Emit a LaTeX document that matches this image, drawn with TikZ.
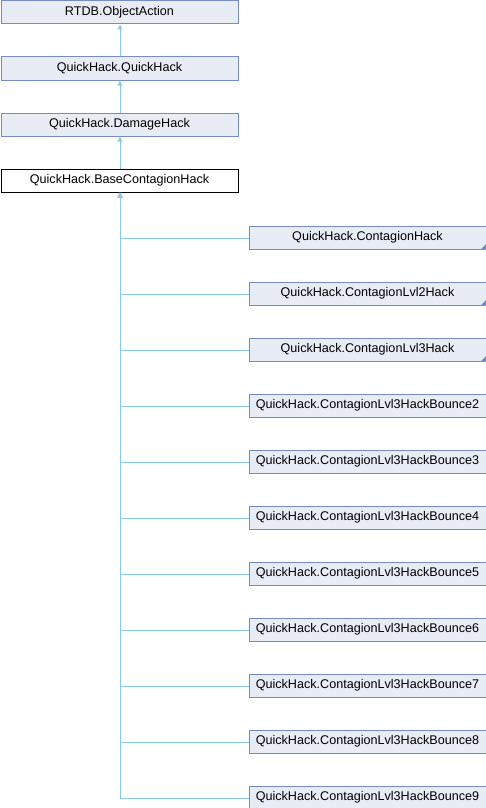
\documentclass[tikz,border=0pt]{standalone}
\usepackage{fontspec}
\setmainfont{Liberation Sans}
\usetikzlibrary{arrows.meta}
\definecolor{boxfill}{RGB}{232,236,245}
\definecolor{boxline}{RGB}{118,140,200}
\definecolor{edgeblue}{RGB}{140,200,232}
\tikzset{
  cls/.style={draw=boxline, fill=boxfill, line width=1pt, minimum width=237pt, minimum height=23pt,
    inner sep=0pt, anchor=north west, font=\fontsize{12.6}{14}\selectfont},
  cur/.style={cls, draw=black, fill=white},
  more/.style={path picture={\fill[boxline] (path picture bounding box.south east) -- ++(-5pt,0) -- ++(5pt,5pt) -- cycle;}},
  inh/.style={draw=edgeblue, line width=1pt, -{Triangle[width=4.5pt,length=5pt]}}
}
\begin{document}
\begin{tikzpicture}[x=1pt,y=-1pt]
	\useasboundingbox (0,0) rectangle (486,808);

	% Base classes
	\node[cls] (objaction) at (0.5,0.5) {RTDB.ObjectAction};
	\node[cls] (quickhack) at (0.5,56.5) {QuickHack.QuickHack};
	\node[cls] (damagehack) at (0.5,112.5) {QuickHack.DamageHack};
	\node[cur] (basehack) at (0.5,168.5) {QuickHack.BaseContagionHack};

	\draw[inh] ([xshift=0.5pt]quickhack.north) -- ([xshift=0.5pt]objaction.south);
	\draw[inh] ([xshift=0.5pt]damagehack.north) -- ([xshift=0.5pt]quickhack.south);
	\draw[inh] ([xshift=0.5pt]basehack.north) -- ([xshift=0.5pt]damagehack.south);

	% Derived classes with further children
	\foreach \k/\name in {0/ContagionHack, 1/ContagionLvl2Hack, 2/ContagionLvl3Hack}
	{
		\node[cls,more] (child\k) at (248.5,225.5+56*\k) {QuickHack.\name};
		\draw[inh] ([yshift=-0.5pt]child\k.west) -| ([xshift=0.5pt]basehack.south);
	}

	% Bounce classes
	\foreach \k in {3,...,10}
	{
		\pgfmathtruncatemacro{\nb}{\k-1}
		\node[cls] (child\k) at (248.5,225.5+56*\k) {QuickHack.ContagionLvl3HackBounce\nb};
		\draw[inh] ([yshift=-0.5pt]child\k.west) -| ([xshift=0.5pt]basehack.south);
	}
\end{tikzpicture}
\end{document}
